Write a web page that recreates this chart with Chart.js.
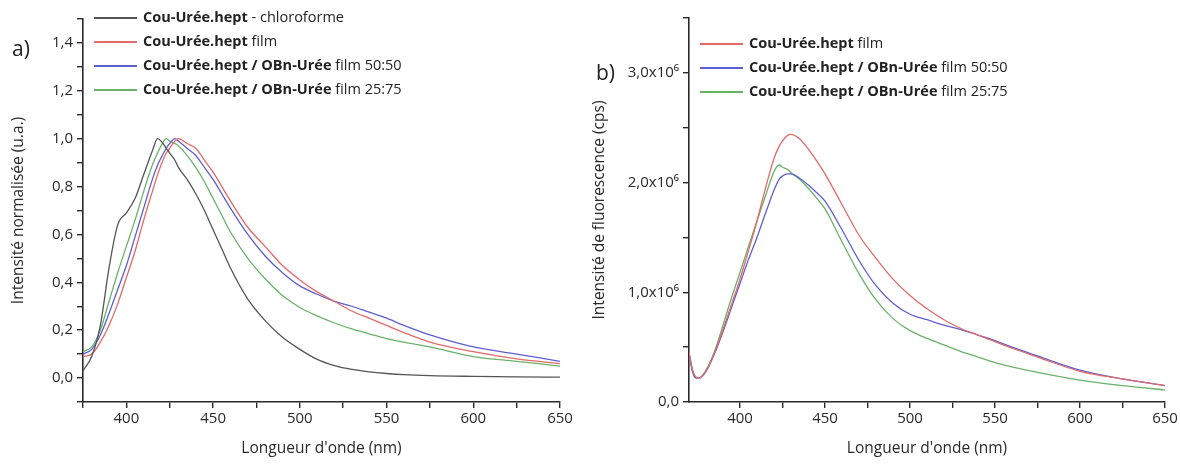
<!DOCTYPE html>
<html>
<head>
<meta charset="utf-8">
<script src="https://cdn.jsdelivr.net/npm/chart.js@4.4.0/dist/chart.umd.min.js"></script>
<style>
  body { margin: 0; background: #fff; font-family: 'Open Sans', sans-serif; }
  #wrap { position: relative; width: 1180px; height: 464px; }
  .box { position: absolute; top: 0; width: 590px; height: 464px; }
  .tag { position: absolute; font-size: 21px; color: #222; }
  .legend { position: absolute; font-size: 14.5px; color: #222; }
  .legend .row { height: 24px; line-height: 24px; white-space: nowrap; }
  .legend .swatch { display: inline-block; width: 43px; height: 1.4px; vertical-align: middle; margin-right: 6px; }
</style>
</head>
<body>
<div id="wrap">
  <div class="box" style="left:0"><canvas id="chartA"></canvas></div>
  <div class="box" style="left:590px"><canvas id="chartB"></canvas></div>
  <div class="tag" style="left:12px;top:34px">a)</div>
  <div class="tag" style="left:596px;top:58px">b)</div>
  <div class="legend" id="legendA" style="left:94px;top:5px"></div>
  <div class="legend" id="legendB" style="left:700px;top:31px"></div>
</div>
<script>
// a) normalised emission
var waveA = [375, 380, 385, 390, 395, 400, 405, 410, 415, 418, 420, 423, 425, 428, 430, 435, 440, 445, 450, 455, 460, 470, 480, 490, 500, 510, 520, 530, 540, 550, 560, 575, 600, 625, 650];
var chloroA = [0.03, 0.09, 0.22, 0.46, 0.64, 0.69, 0.75, 0.85, 0.95, 1.0, 0.99, 0.96, 0.94, 0.91, 0.88, 0.83, 0.77, 0.70, 0.62, 0.54, 0.46, 0.33, 0.24, 0.17, 0.12, 0.078, 0.052, 0.036, 0.026, 0.019, 0.014, 0.01, 0.007, 0.005, 0.004];
var filmA = [0.09, 0.10, 0.15, 0.22, 0.31, 0.42, 0.53, 0.66, 0.78, 0.85, 0.89, 0.94, 0.96, 0.99, 1.0, 0.98, 0.96, 0.91, 0.86, 0.80, 0.74, 0.63, 0.55, 0.47, 0.41, 0.36, 0.32, 0.28, 0.25, 0.22, 0.19, 0.15, 0.11, 0.08, 0.06];
var mix5050A = [0.10, 0.12, 0.18, 0.27, 0.37, 0.47, 0.59, 0.71, 0.83, 0.89, 0.92, 0.96, 0.98, 1.0, 0.99, 0.96, 0.93, 0.88, 0.83, 0.77, 0.71, 0.60, 0.51, 0.44, 0.385, 0.35, 0.32, 0.30, 0.275, 0.25, 0.22, 0.18, 0.13, 0.10, 0.07];
var mix2575A = [0.11, 0.13, 0.20, 0.32, 0.44, 0.55, 0.66, 0.78, 0.89, 0.94, 0.97, 1.0, 0.99, 0.98, 0.97, 0.93, 0.88, 0.82, 0.75, 0.68, 0.61, 0.50, 0.415, 0.345, 0.295, 0.26, 0.23, 0.205, 0.185, 0.165, 0.15, 0.13, 0.09, 0.07, 0.05];

// b) raw fluorescence (cps)
var waveB = [370, 372, 374, 376, 380, 385, 390, 395, 400, 405, 410, 415, 420, 423, 425, 428, 430, 435, 440, 445, 450, 460, 470, 480, 490, 500, 510, 520, 530, 540, 550, 560, 575, 600, 625, 650];
var filmB = [0.46e6, 0.30e6, 0.23e6, 0.22e6, 0.28e6, 0.45e6, 0.66e6, 0.89e6, 1.12e6, 1.38e6, 1.65e6, 1.95e6, 2.22e6, 2.33e6, 2.38e6, 2.43e6, 2.44e6, 2.40e6, 2.31e6, 2.20e6, 2.08e6, 1.80e6, 1.52e6, 1.31e6, 1.12e6, 0.97e6, 0.85e6, 0.75e6, 0.67e6, 0.61e6, 0.55e6, 0.49e6, 0.41e6, 0.28e6, 0.21e6, 0.15e6];
var mix5050B = [0.44e6, 0.28e6, 0.22e6, 0.22e6, 0.28e6, 0.44e6, 0.64e6, 0.86e6, 1.08e6, 1.30e6, 1.50e6, 1.72e6, 1.93e6, 2.03e6, 2.06e6, 2.08e6, 2.08e6, 2.04e6, 1.98e6, 1.91e6, 1.83e6, 1.57e6, 1.29e6, 1.06e6, 0.90e6, 0.80e6, 0.75e6, 0.70e6, 0.66e6, 0.61e6, 0.56e6, 0.50e6, 0.42e6, 0.29e6, 0.21e6, 0.15e6];
var mix2575B = [0.45e6, 0.29e6, 0.22e6, 0.22e6, 0.29e6, 0.46e6, 0.70e6, 0.95e6, 1.18e6, 1.42e6, 1.65e6, 1.88e6, 2.10e6, 2.16e6, 2.14e6, 2.12e6, 2.09e6, 2.03e6, 1.95e6, 1.86e6, 1.76e6, 1.46e6, 1.17e6, 0.93e6, 0.76e6, 0.65e6, 0.58e6, 0.52e6, 0.46e6, 0.41e6, 0.36e6, 0.32e6, 0.27e6, 0.20e6, 0.15e6, 0.11e6];

// legend text: bold part + plain part
var labelsA = [['Cou-Urée.hept', ' - chloroforme'], ['Cou-Urée.hept', ' film'], ['Cou-Urée.hept / OBn-Urée', ' film 50:50'], ['Cou-Urée.hept / OBn-Urée', ' film 25:75']];
var labelsB = [['Cou-Urée.hept', ' film'], ['Cou-Urée.hept / OBn-Urée', ' film 50:50'], ['Cou-Urée.hept / OBn-Urée', ' film 25:75']];

var GRAY = '#555555', RED = '#e26a6a', BLUE = '#5e5ed2', GREEN = '#6ab26a';
var AXIS = '#2a2a2a';
var FONT = "'Open Sans', sans-serif";

function pts(xs, ys) {
  return xs.map(function(x, i) { return {x: x, y: ys[i]}; });
}

function ds(label, xs, ys, color) {
  return {
    label: label.join(''), parts: label, data: pts(xs, ys),
    borderColor: color, backgroundColor: color, borderWidth: 1.3,
    pointRadius: 0, cubicInterpolationMode: 'monotone', fill: false
  };
}

// html legend so the bold part can stay bold
function htmlLegend(id) {
  return {
    id: 'htmlLegend',
    afterUpdate: function(chart) {
      var box = document.getElementById(id);
      box.innerHTML = '';
      chart.data.datasets.forEach(function(d) {
        var row = document.createElement('div');
        row.className = 'row';
        var sw = document.createElement('span');
        sw.className = 'swatch';
        sw.style.background = d.borderColor;
        var b = document.createElement('b');
        b.textContent = d.parts[0];
        row.appendChild(sw);
        row.appendChild(b);
        row.appendChild(document.createTextNode(d.parts[1]));
        box.appendChild(row);
      });
    }
  };
}

function xAxis(min) {
  return {
    type: 'linear', min: min, max: 650,
    afterFit: function(s) { s.height = 62; },
    afterBuildTicks: function(s) {
      s.ticks = s.ticks.filter(function(t) { return t.value % 25 === 0; });
    },
    border: {color: AXIS, width: 1.6},
    grid: {drawOnChartArea: false, color: AXIS, tickLength: 6, lineWidth: 1.4},
    ticks: {
      stepSize: 25, autoSkip: false, maxRotation: 0, padding: 2,
      color: '#2a2a2a', font: {family: FONT, size: 15},
      callback: function(v) { return v % 50 === 0 ? String(v) : ''; }
    },
    title: {display: true, text: "Longueur d'onde (nm)", color: '#2a2a2a', font: {family: FONT, size: 15.5}, padding: {bottom: 6}}
  };
}

var common = {
  responsive: true, maintainAspectRatio: false, animation: false,
  plugins: {legend: {display: false}, tooltip: {enabled: false}}
};

var chartA = new Chart(document.getElementById('chartA'), {
  type: 'line',
  data: {
    datasets: [
      ds(labelsA[0], waveA, chloroA, GRAY),
      ds(labelsA[1], waveA, filmA, RED),
      ds(labelsA[2], waveA, mix5050A, BLUE),
      ds(labelsA[3], waveA, mix2575A, GREEN)
    ]
  },
  options: Object.assign({}, common, {
    layout: {padding: {top: 19, right: 30, left: 0, bottom: 0}},
    scales: {
      x: xAxis(375),
      y: {
        min: -0.1, max: 1.5,
        afterFit: function(s) { s.width = 83; },
        border: {color: AXIS, width: 1.6},
        grid: {drawOnChartArea: false, color: AXIS, tickLength: 6, lineWidth: 1.4},
        ticks: {
          stepSize: 0.1, autoSkip: false, padding: 4,
          color: '#2a2a2a', font: {family: FONT, size: 15},
          callback: function(v) {
            var k = Math.round(v * 10);
            return (k % 2 === 0 && k >= 0 && k <= 14) ? (k / 10).toFixed(1).replace('.', ',') : '';
          }
        },
        title: {display: true, text: 'Intensité normalisée (u.a.)', color: '#2a2a2a', font: {family: FONT, size: 15.5}, padding: {top: 9}}
      }
    }
  }),
  plugins: [htmlLegend('legendA')]
});

var chartB = new Chart(document.getElementById('chartB'), {
  type: 'line',
  data: {
    datasets: [
      ds(labelsB[0], waveB, filmB, RED),
      ds(labelsB[1], waveB, mix5050B, BLUE),
      ds(labelsB[2], waveB, mix2575B, GREEN)
    ]
  },
  options: Object.assign({}, common, {
    layout: {padding: {top: 18, right: 15, left: 0, bottom: 0}},
    scales: {
      x: xAxis(370),
      y: {
        min: 0, max: 3.5e6,
        afterFit: function(s) { s.width = 99; },
        border: {color: AXIS, width: 1.6},
        grid: {drawOnChartArea: false, color: AXIS, tickLength: 6, lineWidth: 1.4},
        ticks: {
          stepSize: 5e5, autoSkip: false, padding: 4,
          color: '#2a2a2a', font: {family: FONT, size: 15},
          callback: function(v) {
            if (v === 0) return '0,0';
            if (v % 1e6 === 0 && v < 3.5e6) return (v / 1e6).toFixed(1).replace('.', ',') + 'x10⁶';
            return '';
          }
        },
        title: {display: true, text: 'Intensité de fluorescence (cps)', color: '#2a2a2a', font: {family: FONT, size: 15.5}, padding: {top: 0}}
      }
    }
  }),
  plugins: [htmlLegend('legendB')]
});
</script>
</body>
</html>
